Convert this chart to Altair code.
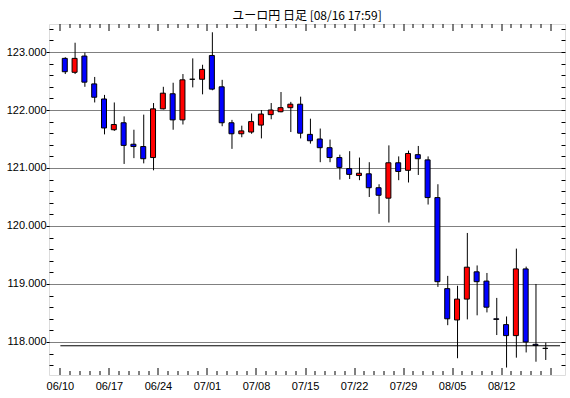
import altair as alt
import pandas as pd

title_text = "ユーロ円 日足 [08/16 17:59]"

dates = ["06/10", "06/11", "06/12", "06/13", "06/14",
         "06/17", "06/18", "06/19", "06/20", "06/21",
         "06/24", "06/25", "06/26", "06/27", "06/28",
         "07/01", "07/02", "07/03", "07/04", "07/05",
         "07/08", "07/09", "07/10", "07/11", "07/12",
         "07/15", "07/16", "07/17", "07/18", "07/19",
         "07/22", "07/23", "07/24", "07/25", "07/26",
         "07/29", "07/30", "07/31", "08/01", "08/02",
         "08/05", "08/06", "08/07", "08/08", "08/09",
         "08/12", "08/13", "08/14", "08/15", "08/16"]

opens = [122.89, 122.65, 122.93, 122.45, 122.19, 121.66, 121.78, 121.41, 121.37, 121.18,
         122.02, 122.28, 121.83, 122.53, 122.53, 122.94, 122.40, 121.78, 121.59, 121.62,
         121.74, 121.92, 121.97, 122.04, 122.10, 121.58, 121.50, 121.35, 121.18, 120.99,
         120.87, 120.90, 120.66, 120.48, 121.09, 120.96, 121.23, 121.14, 120.49, 118.92,
         118.38, 118.74, 119.21, 119.05, 118.40, 118.30, 118.11, 119.26, 117.96, 117.89]
highs = [122.91, 123.16, 122.99, 122.57, 122.26, 122.13, 121.89, 121.66, 121.92, 122.12,
         122.40, 122.47, 122.62, 122.89, 122.78, 123.34, 122.52, 121.83, 121.73, 121.94,
         122.00, 122.12, 122.31, 122.14, 122.23, 121.85, 121.68, 121.49, 121.23, 121.29,
         121.18, 121.10, 120.72, 121.39, 121.20, 121.30, 121.38, 121.20, 120.72, 119.14,
         118.97, 119.88, 119.32, 119.19, 118.76, 118.44, 119.61, 119.30, 119.00, 117.99]
lows = [122.62, 122.62, 122.40, 122.13, 121.58, 121.64, 121.07, 121.17, 121.08, 120.96,
        122.01, 121.66, 121.75, 122.39, 122.27, 122.34, 121.72, 121.33, 121.53, 121.59,
        121.51, 121.84, 121.96, 121.62, 121.51, 121.42, 121.10, 121.10, 120.80, 120.81,
        120.79, 120.50, 120.21, 120.06, 120.79, 120.75, 120.88, 120.37, 118.95, 118.29,
        117.72, 118.39, 118.46, 118.51, 118.12, 117.56, 117.73, 117.82, 117.66, 117.69]
closes = [122.66, 122.89, 122.48, 122.22, 121.69, 121.75, 121.39, 121.37, 121.16, 122.02,
          122.29, 121.83, 122.52, 122.53, 122.70, 122.36, 121.78, 121.59, 121.64, 121.80,
          121.93, 122.00, 122.04, 122.10, 121.60, 121.47, 121.35, 121.18, 121.01, 120.89,
          120.91, 120.66, 120.53, 121.09, 120.94, 121.25, 121.16, 120.49, 119.04, 118.40,
          118.74, 119.29, 119.04, 118.60, 118.39, 118.11, 119.26, 118.00, 117.94, 117.89]

week_labels = ["06/10", "06/17", "06/24", "07/01", "07/08",
               "07/15", "07/22", "07/29", "08/05", "08/12"]

price_line = [117.935]

n = len(dates)
direction = ["up" if c > o else ("down" if c < o else "flat") for o, c in zip(opens, closes)]
df = pd.DataFrame({"idx": list(range(n)), "date": dates, "open": opens, "high": highs,
                   "low": lows, "close": closes, "dir": direction})

X_DOMAIN = [-1.15, 50.45]
Y_DOMAIN = [117.43103, 123.48276]
xscale = alt.Scale(domain=X_DOMAIN, nice=False, zero=False)
yscale = alt.Scale(domain=Y_DOMAIN, nice=False, zero=False)

x_ticks = [i - 0.5 for i in range(n + 1)]
y_ticks = [round(117.6 + 0.2 * k, 1) for k in range(30)]

INT_TEST = "abs(datum.value - round(datum.value)) < 1e-6"
MAJ_TEST = "abs((datum.value + 0.5) % 5) < 1e-6"
lab_arr = "[" + ",".join("'%s'" % s for s in week_labels) + "]"

FONT = "Liberation Sans"

left_axis = alt.Axis(
    orient="left", values=y_ticks, domain=False, title=None,
    grid=True, gridColor="black", gridDash=[1, 1], gridWidth=1,
    gridOpacity={"condition": {"test": INT_TEST, "value": 1}, "value": 0},
    ticks=True, tickColor="black", tickWidth=1,
    tickSize={"condition": {"test": INT_TEST, "value": 3}, "value": -4},
    labelExpr=INT_TEST + " ? format(datum.value, '.3f') : ''",
    labelFont=FONT, labelFontSize=11, labelColor="black", labelPadding=0,
    labelOverlap=False, labelFlush=False, labelBound=False,
)
right_axis = alt.Axis(
    orient="right", values=y_ticks, domain=False, title=None, grid=False,
    labels=False, ticks=True, tickColor="black", tickWidth=1,
    tickSize={"condition": {"test": INT_TEST, "value": -4}, "value": -4},
)
bottom_axis = alt.Axis(
    orient="bottom", values=x_ticks, domain=False, title=None, grid=False,
    ticks=True, tickColor="black", tickWidth=1, translate=0,
    tickSize={"condition": {"test": MAJ_TEST, "value": -7}, "value": -4},
    labelExpr=MAJ_TEST + " ? " + lab_arr + "[round((datum.value + 0.5) / 5)] : ''",
    labelFont=FONT, labelFontSize=11, labelColor="black", labelPadding=13,
    labelOverlap=False, labelFlush=False, labelBound=False, labelAngle=0,
)
top_axis = alt.Axis(
    orient="top", values=x_ticks, domain=False, title=None, grid=False,
    labels=False, ticks=True, tickColor="black", tickWidth=1, translate=0,
    tickSize={"condition": {"test": MAJ_TEST, "value": -7}, "value": -4},
)

base = alt.Chart(df)

wicks = base.mark_rule(color="black", strokeWidth=1).encode(
    x=alt.X("idx:Q", scale=xscale, axis=bottom_axis),
    y=alt.Y("low:Q", scale=yscale, axis=left_axis),
    y2="high:Q",
)

bodies = base.mark_bar(size=5, stroke="black", strokeWidth=1, xOffset=-0.5).encode(
    x=alt.X("idx:Q", scale=xscale, axis=top_axis),
    y=alt.Y("open:Q", scale=yscale, axis=right_axis),
    y2="close:Q",
    color=alt.Color("dir:N", scale=alt.Scale(domain=["up", "down", "flat"],
                                            range=["#ff0000", "#0000ff", "#000000"]),
                    legend=None),
)

line_df = pd.DataFrame({"x0": [-0.5], "x1": [X_DOMAIN[1]], "y": price_line})
pline = alt.Chart(line_df).mark_rule(color="black", strokeWidth=1).encode(
    x=alt.X("x0:Q", scale=xscale, axis=None),
    x2="x1:Q",
    y=alt.Y("y:Q", scale=yscale, axis=None),
)

chart = alt.layer(wicks, pline, bodies).resolve_axis(
    x="independent", y="independent"
).properties(
    width=516, height=351,
    title=alt.TitleParams(title_text, font="Noto Sans CJK JP", fontSize=12,
                          fontWeight="normal", color="black", anchor="middle",
                          baseline="alphabetic", offset=4, dy=13),
    autosize=alt.AutoSizeParams(type="none"),
    padding={"left": 49, "top": 24, "right": 5, "bottom": 23},
).configure_view(
    stroke="black", strokeWidth=1
).configure(background="white")

chart.save("out.html", embed_options={"renderer": "svg", "actions": False})
